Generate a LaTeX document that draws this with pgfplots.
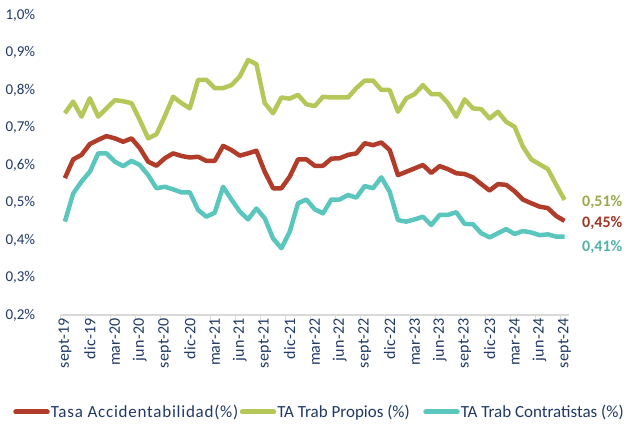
\documentclass[border=0pt]{standalone}
\usepackage{fontspec}
\setmainfont{Carlito}
\newfontfamily\lsfont[LetterSpace=1]{Carlito}
\newfontfamily\lgfont[LetterSpace=4.5]{Carlito}
\usepackage{pgfplots}
\usepackage{pgfplotstable}
\pgfplotsset{compat=1.18}
\definecolor{cRed}{RGB}{178,60,42}
\definecolor{cGreen}{RGB}{181,199,89}
\definecolor{cCyan}{RGB}{91,198,189}
\definecolor{cNavy}{RGB}{31,56,100}
\definecolor{cAxis}{RGB}{217,217,217}

\pgfplotstableread{
i red green cyan
0 0.565 0.738 0.449
1 0.615 0.769 0.524
2 0.627 0.729 0.556
3 0.656 0.778 0.582
4 0.667 0.729 0.631
5 0.677 0.751 0.631
6 0.671 0.773 0.609
7 0.662 0.770 0.597
8 0.671 0.765 0.611
9 0.645 0.720 0.600
10 0.609 0.671 0.573
11 0.598 0.682 0.538
12 0.618 0.730 0.542
13 0.631 0.782 0.535
14 0.624 0.765 0.527
15 0.620 0.751 0.527
16 0.622 0.827 0.480
17 0.611 0.827 0.462
18 0.611 0.805 0.473
19 0.651 0.805 0.542
20 0.640 0.813 0.508
21 0.625 0.836 0.476
22 0.631 0.880 0.455
23 0.638 0.869 0.484
24 0.582 0.765 0.458
25 0.538 0.738 0.404
26 0.538 0.780 0.378
27 0.569 0.777 0.422
28 0.615 0.787 0.498
29 0.615 0.762 0.508
30 0.598 0.757 0.482
31 0.598 0.782 0.471
32 0.617 0.780 0.508
33 0.618 0.780 0.508
34 0.627 0.780 0.520
35 0.631 0.805 0.513
36 0.658 0.825 0.544
37 0.653 0.825 0.538
38 0.660 0.800 0.567
39 0.640 0.800 0.529
40 0.573 0.742 0.453
41 0.582 0.778 0.449
42 0.591 0.789 0.455
43 0.600 0.813 0.462
44 0.579 0.789 0.440
45 0.597 0.789 0.467
46 0.589 0.765 0.467
47 0.578 0.729 0.474
48 0.576 0.775 0.443
49 0.567 0.751 0.442
50 0.549 0.749 0.418
51 0.532 0.724 0.407
52 0.549 0.742 0.418
53 0.547 0.715 0.429
54 0.530 0.702 0.416
55 0.508 0.649 0.424
56 0.498 0.615 0.420
57 0.489 0.602 0.413
58 0.485 0.589 0.415
59 0.464 0.547 0.409
60 0.451 0.507 0.409
}\datatable

\begin{document}
\begin{tikzpicture}
\useasboundingbox (-60.7bp,-110bp) rectangle (574.3bp,315bp);
\begin{axis}[
  scale only axis,
  width=508bp, height=300bp,
  xmin=-0.5, xmax=60.5, ymin=0.2, ymax=1.0,
  axis x line*=bottom, axis y line*=left,
  y axis line style={draw=none},
  x axis line style={draw=cAxis, line width=1.3bp, -},
  ytick={0.2,0.3,0.4,0.5,0.6,0.7,0.8,0.9,1.0},
  yticklabels={{0,2\%},{0,3\%},{0,4\%},{0,5\%},{0,6\%},{0,7\%},{0,8\%},{0,9\%},{1,0\%}},
  ytick style={draw=none},
  xtick={0,3,...,60},
  xticklabels={sept-19,dic-19,mar-20,jun-20,sept-20,dic-20,mar-21,jun-21,sept-21,dic-21,mar-22,jun-22,sept-22,dic-22,mar-23,jun-23,sept-23,dic-23,mar-24,jun-24,sept-24},
  major x tick style={draw=none},
  major tick length=0pt,
  minor xtick={-0.5,2.5,...,59.5},
  minor x tick style={draw=cAxis, line width=1.3bp},
  minor tick length=5bp,
  tick align=outside,
  xticklabel style={rotate=90, anchor=east, font=\lsfont\fontsize{16bp}{16bp}\selectfont, text=cNavy},
  yticklabel style={font=\fontsize{15bp}{15bp}\selectfont, text=cNavy, xshift=-22bp},
  clip=false,
  legend columns=3,
  legend style={draw=none, fill=none, at={(axis description cs:0.5154,-0.3233)}, anchor=center,
    font=\fontsize{17bp}{17bp}\selectfont, text=cNavy, inner sep=0pt,
    nodes={inner sep=1bp}, column sep=0pt},
  legend image code/.code={\draw[line width=5bp, line cap=round] (2.5bp,0bp) -- (34bp,0bp);},
]
\addplot[cRed, line width=4.5bp, line join=round] table[x=i,y=red]{\datatable};
\addlegendentry{\makebox[188bp][l]{\lgfont Tasa Accidentabilidad(\%)}}
\addplot[cGreen, line width=4.5bp, line join=round] table[x=i,y=green]{\datatable};
\addlegendentry{\makebox[145bp][l]{TA Trab Propios (\%)}}
\addplot[cCyan, line width=4.5bp, line join=round] table[x=i,y=cyan]{\datatable};
\addlegendentry{\makebox[170bp][l]{TA Trab Contratistas (\%)}}
\node[anchor=west, inner sep=0pt, text=cGreen!85!black, font=\bfseries\fontsize{16bp}{16bp}\selectfont] at (axis cs:62.1,0.502) {0,51\%};
\node[anchor=west, inner sep=0pt, text=cRed!90!black, font=\bfseries\fontsize{16bp}{16bp}\selectfont] at (axis cs:62.1,0.444) {0,45\%};
\node[anchor=west, inner sep=0pt, text=cCyan!90!black, font=\bfseries\fontsize{16bp}{16bp}\selectfont] at (axis cs:62.1,0.381) {0,41\%};
\end{axis}
\end{tikzpicture}
\end{document}
